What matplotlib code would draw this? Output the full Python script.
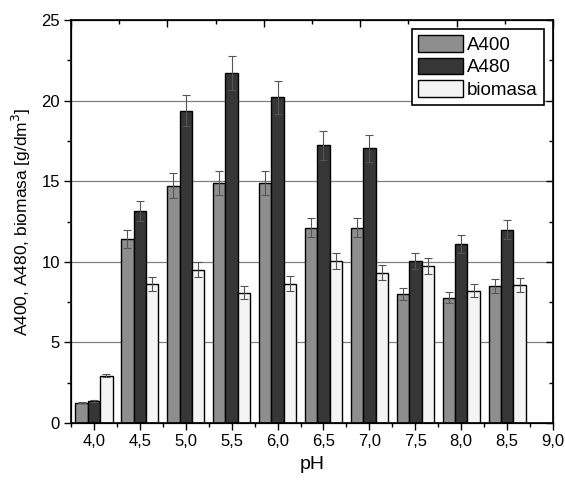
import matplotlib
matplotlib.use('Agg')
import matplotlib.pyplot as plt
from matplotlib.ticker import MultipleLocator, FixedLocator
import numpy as np

plt.rcParams['font.family'] = ['Liberation Sans', 'DejaVu Sans']

ph = [4.0, 4.5, 5.0, 5.5, 6.0, 6.5, 7.0, 7.5, 8.0, 8.5]
a400 = [1.26, 11.40, 14.72, 14.89, 14.89, 12.12, 12.12, 8.00, 7.77, 8.50]
a400_err = [0.04, 0.57, 0.77, 0.72, 0.72, 0.58, 0.58, 0.39, 0.34, 0.41]
a480 = [1.36, 13.15, 19.38, 21.69, 20.20, 17.22, 17.04, 10.05, 11.12, 11.99]
a480_err = [0.05, 0.64, 0.95, 1.06, 1.02, 0.89, 0.84, 0.52, 0.56, 0.58]
biomasa = [2.92, 8.62, 9.51, 8.08, 8.64, 10.03, 9.33, 9.74, 8.21, 8.56]
biomasa_err = [0.09, 0.42, 0.46, 0.40, 0.46, 0.50, 0.45, 0.48, 0.40, 0.42]
xtick_labels = ['4,0', '4,5', '5,0', '5,5', '6,0', '6,5', '7,0', '7,5', '8,0', '8,5', '9,0']

fig = plt.figure(figsize=(5.65, 4.82), dpi=100)
ax = fig.add_axes([0.1257, 0.1224, 0.8531, 0.8361])

x = np.array(ph)
w = 0.135
series = [(a400, a400_err, '#8e8e8e', 'A400'),
          (a480, a480_err, '#363636', 'A480'),
          (biomasa, biomasa_err, '#f4f4f4', 'biomasa')]
for i, (vals, errs, col, lab) in enumerate(series):
    ax.bar(x + (i - 1) * w, vals, width=w, color=col, edgecolor='black',
           linewidth=1.0, label=lab, zorder=2)
    ax.errorbar(x + (i - 1) * w, vals, yerr=errs, fmt='none', ecolor='#555555',
                elinewidth=0.8, capsize=3, capthick=0.8, zorder=3)

for yv in [5, 10, 15, 20]:
    ax.axhline(yv, color='#808080', linewidth=0.9, zorder=1)

ax.set_xlim(3.75, 9.0)
ax.set_ylim(0, 25)
ax.set_xticks(np.arange(4.0, 9.01, 0.5))
ax.set_xticklabels(xtick_labels)
ax.xaxis.set_minor_locator(FixedLocator(np.arange(3.75, 9.0, 0.5)))
ax.yaxis.set_major_locator(MultipleLocator(5))
ax.yaxis.set_minor_locator(MultipleLocator(2.5))
ax.tick_params(axis='both', which='major', direction='out', length=5, width=1,
               labelsize=12, pad=3)
ax.tick_params(axis='both', which='minor', direction='out', length=3, width=1)
ax.tick_params(axis='y', which='both', right=False)
for s in ax.spines.values():
    s.set_linewidth(1.2)

# right side ticks point inward
ax2y = ax.twinx()
ax2y.set_ylim(0, 25)
ax2y.yaxis.set_major_locator(MultipleLocator(5))
ax2y.yaxis.set_minor_locator(MultipleLocator(2.5))
ax2y.tick_params(axis='y', which='major', direction='in', length=5, width=1, labelright=False)
ax2y.tick_params(axis='y', which='minor', direction='in', length=3, width=1)

# top axis ticks
ax2 = ax.twiny()
ax2.set_xlim(0, 10)
ax2.xaxis.set_major_locator(MultipleLocator(2))
ax2.xaxis.set_minor_locator(MultipleLocator(1))
ax2.tick_params(axis='x', which='major', direction='in', length=5, width=1, labeltop=False)
ax2.tick_params(axis='x', which='minor', direction='in', length=3, width=1)

ax.set_xlabel('pH', fontsize=14, labelpad=5)
ax.set_ylabel('A400, A480, biomasa [g/dm$^3$]', fontsize=12.5, labelpad=6)

leg = ax.legend(loc='upper right', fontsize=13.5, frameon=True, fancybox=False,
                edgecolor='black', framealpha=1, handlelength=2.4, handleheight=1.0,
                handletextpad=0.25, borderpad=0.3, labelspacing=0.2,
                borderaxespad=0.5)
leg.get_frame().set_linewidth(1.2)
leg.set_zorder(10)

fig.savefig('out.png', dpi=100)
